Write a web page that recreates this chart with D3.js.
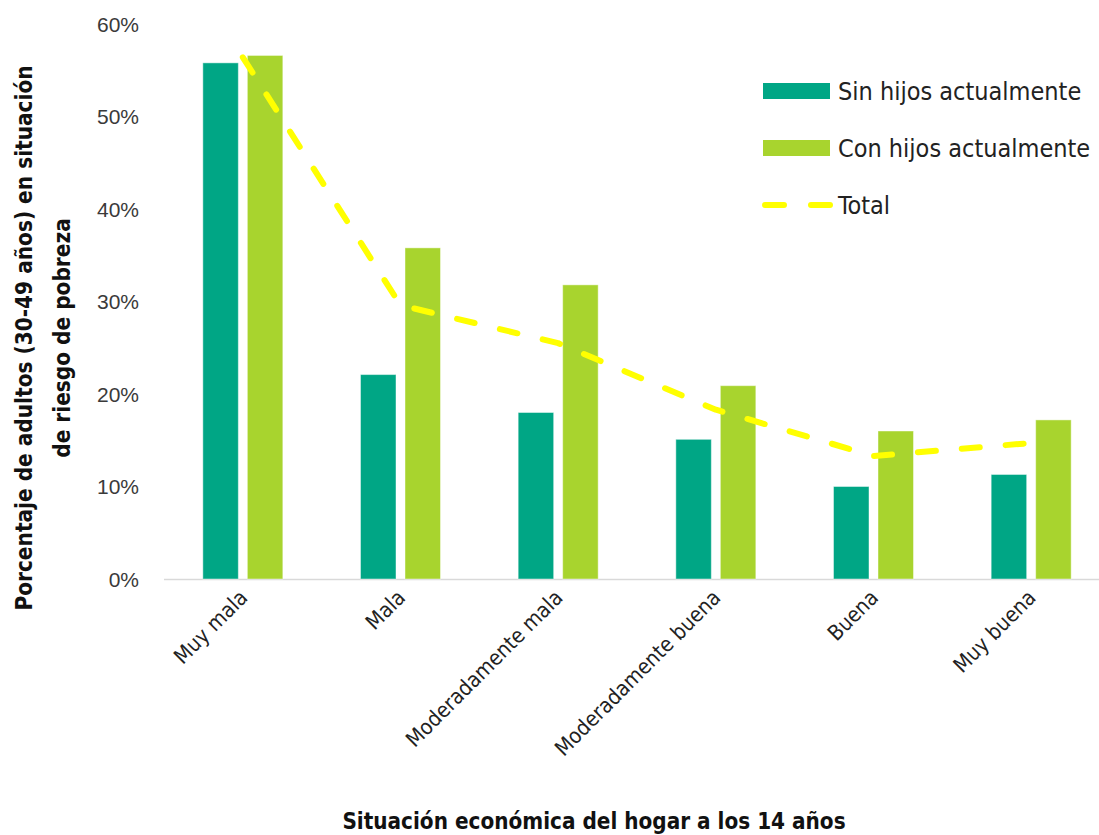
<!DOCTYPE html>
<html><head><meta charset="utf-8">
<script src="https://cdn.jsdelivr.net/npm/d3@7"></script>
<style>
body{margin:0;background:#fff;}
svg{display:block;font-family:"Liberation Sans Narrow","DejaVu Sans Condensed",sans-serif;}
</style></head>
<body><svg id="c" width="1099" height="835"></svg>
<script>
const categories = ["Muy mala","Mala","Moderadamente mala","Moderadamente buena","Buena","Muy buena"];
const sinHijos = [0.558, 0.221, 0.180, 0.151, 0.100, 0.113];
const conHijos = [0.566, 0.358, 0.318, 0.209, 0.160, 0.172];
const total    = [0.564, 0.296, 0.255, 0.183, 0.133, 0.147];
const yTicks = [0,0.1,0.2,0.3,0.4,0.5,0.6];
const seriesNames = ["Sin hijos actualmente","Con hijos actualmente","Total"];
const colors = {sin:"#00A685", con:"#A8D42E", total:"#FFFF00"};

const svg = d3.select("#c");
const x0 = d3.scaleBand().domain(categories).range([164, 1110]).paddingInner(0).paddingOuter(0);
const y = d3.scaleLinear().domain([0,0.6]).range([579, 24]);
const barW = 35.5, gap = 9;

// baseline
svg.append("line").attr("x1",164).attr("x2",1099).attr("y1",y(0)+0.5).attr("y2",y(0)+0.5)
  .attr("stroke","#d9d9d9").attr("stroke-width",1.5);

// y axis
const yAxis = d3.axisLeft(y).tickValues(yTicks).tickFormat(d3.format(".0%")).tickSize(0).tickPadding(0);
const ya = svg.append("g").attr("transform","translate(139,0)").call(yAxis);
ya.select(".domain").remove();
ya.selectAll("text").attr("font-size",21).attr("fill","#3a3a3a").attr("font-family","inherit").attr("dy","0.35em");

// bars
const cx = c => x0(c) + x0.bandwidth()/2;
svg.append("g").selectAll("rect").data(categories).join("rect")
  .attr("x", c => cx(c) - gap/2 - barW).attr("width", barW)
  .attr("y", (c,i) => y(sinHijos[i])).attr("height", (c,i) => y(0) - y(sinHijos[i]))
  .attr("fill", colors.sin).attr("stroke","rgba(255,255,255,0.45)").attr("stroke-width",1);
svg.append("g").selectAll("rect").data(categories).join("rect")
  .attr("x", c => cx(c) + gap/2).attr("width", barW)
  .attr("y", (c,i) => y(conHijos[i])).attr("height", (c,i) => y(0) - y(conHijos[i]))
  .attr("fill", colors.con).attr("stroke","rgba(255,255,255,0.45)").attr("stroke-width",1);

// total line
const line = d3.line().x((d,i) => cx(categories[i])).y(d => y(d)).curve(d3.curveLinear);
svg.append("path").datum(total).attr("d", line).attr("fill","none")
  .attr("stroke", colors.total).attr("stroke-width",6).attr("stroke-linecap","round")
  .attr("stroke-linejoin","round").attr("stroke-dasharray","18 26");

// x labels
const xa = svg.append("g");
categories.forEach(c => {
  xa.append("text").attr("transform",`translate(${cx(c)+6},${599}) rotate(-45)`)
    .attr("text-anchor","end").attr("font-size",21.3).attr("fill","#222").text(c);
});

// axis titles
svg.append("text").attr("transform","translate(32,338) rotate(-90)").attr("text-anchor","middle")
  .attr("font-size",22.4).attr("font-weight","bold").attr("fill","#111")
  .text("Porcentaje de adultos (30-49 años)  en situación");
svg.append("text").attr("transform","translate(70,338) rotate(-90)").attr("text-anchor","middle")
  .attr("font-size",22.4).attr("font-weight","bold").attr("fill","#111")
  .text("de riesgo de pobreza");
svg.append("text").attr("x",594).attr("y",829).attr("text-anchor","middle")
  .attr("font-size",22.3).attr("font-weight","bold").attr("fill","#111")
  .text("Situación económica del hogar a los 14 años");

// legend
const lg = svg.append("g");
const rows = [91, 148, 205];
lg.append("rect").attr("x",763).attr("y",rows[0]-8).attr("width",67).attr("height",16).attr("fill",colors.sin);
lg.append("rect").attr("x",763).attr("y",rows[1]-8).attr("width",67).attr("height",16).attr("fill",colors.con);
lg.append("line").attr("x1",765).attr("x2",830).attr("y1",rows[2]).attr("y2",rows[2])
  .attr("stroke",colors.total).attr("stroke-width",6).attr("stroke-linecap","round").attr("stroke-dasharray","19 27");
seriesNames.forEach((n,i) => {
  lg.append("text").attr("x",838).attr("y",rows[i]).attr("dy","0.36em").attr("font-size",25).attr("fill","#222").text(n);
});
</script></body></html>
